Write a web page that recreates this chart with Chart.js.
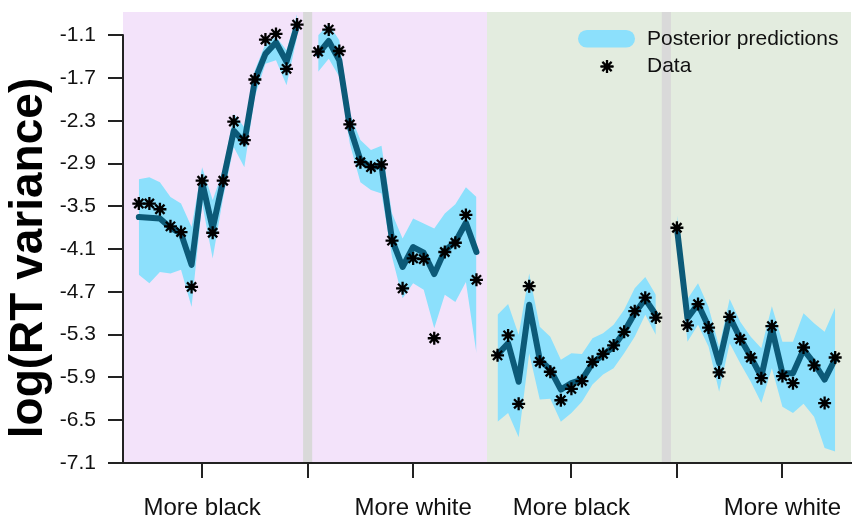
<!DOCTYPE html>
<html>
<head>
<meta charset="utf-8">
<script src="https://cdn.jsdelivr.net/npm/chart.js@4.4.1/dist/chart.umd.min.js"></script>
<style>
  html, body { margin: 0; padding: 0; background: #fff; }
</style>
</head>
<body>
<canvas id="chart" width="864" height="526"></canvas>
<script>
// trial index inside a block, and where each block starts on the x axis
const trials = [0, 1, 2, 3, 4, 5, 6, 7, 8, 9, 10, 11, 12, 13, 14, 15];
const blockStart = [0, 17, 34, 51];

// block A (pink, left)
const dataA = [-3.46, -3.46, -3.54, -3.78, -3.86, -4.63, -3.14, -3.87, -3.14, -2.31, -2.57, -1.72, -1.16, -1.08, -1.57, -0.95];
const fitA  = [-3.65, -3.66, -3.67, -3.80, -3.88, -4.32, -3.16, -3.81, -3.13, -2.44, -2.60, -1.73, -1.36, -1.20, -1.47, -0.96];
const hiA   = [-3.12, -3.09, -3.16, -3.37, -3.46, -3.79, -2.95, -3.41, -2.99, -2.20, -2.39, -1.59, -1.22, -1.12, -1.31, -0.80];
const loA   = [-4.46, -4.58, -4.42, -4.44, -4.39, -4.91, -3.46, -4.23, -3.37, -2.67, -2.95, -1.96, -1.50, -1.45, -1.80, -1.12];

// block B (pink, right)
const dataB = [-1.33, -1.02, -1.32, -2.35, -2.88, -2.95, -2.91, -3.98, -4.65, -4.23, -4.24, -5.35, -4.14, -4.01, -3.62, -4.53];
const fitB  = [-1.36, -1.18, -1.45, -2.39, -2.85, -2.95, -2.93, -3.97, -4.35, -4.07, -4.15, -4.45, -4.12, -4.00, -3.73, -4.14];
const hiB   = [-1.10, -0.94, -1.17, -2.20, -2.57, -2.71, -2.65, -3.60, -3.95, -3.67, -3.74, -3.81, -3.60, -3.47, -3.23, -3.37];
const loB   = [-1.61, -1.43, -1.68, -2.62, -3.16, -3.27, -3.32, -4.21, -4.79, -4.58, -4.67, -5.21, -4.74, -4.84, -4.56, -5.56];

// block C (green, left)
const dataC = [-5.59, -5.31, -6.27, -4.62, -5.68, -5.82, -6.22, -6.06, -5.95, -5.68, -5.57, -5.45, -5.26, -4.97, -4.78, -5.06];
const fitC  = [-5.58, -5.42, -5.96, -4.88, -5.65, -5.79, -6.07, -5.98, -5.93, -5.70, -5.58, -5.47, -5.26, -5.00, -4.80, -5.02];
const hiC   = [-5.02, -4.87, -5.30, -4.44, -5.19, -5.33, -5.65, -5.56, -5.57, -5.35, -5.28, -5.16, -4.95, -4.65, -4.49, -4.74];
const loC   = [-6.52, -6.40, -6.74, -5.56, -6.21, -6.20, -6.52, -6.40, -6.24, -6.00, -5.86, -5.77, -5.56, -5.33, -5.02, -5.30];

// block D (green, right)
const dataD = [-3.80, -5.17, -4.87, -5.20, -5.83, -5.05, -5.36, -5.62, -5.91, -5.18, -5.88, -5.98, -5.48, -5.73, -6.26, -5.62];
const fitD  = [-3.80, -5.07, -4.87, -5.19, -5.70, -5.05, -5.35, -5.61, -5.89, -5.21, -5.84, -5.84, -5.51, -5.70, -5.93, -5.64];
const hiD   = [-3.62, -4.80, -4.58, -4.91, -5.47, -4.80, -5.12, -5.33, -5.49, -4.90, -5.40, -5.40, -5.00, -5.14, -5.26, -4.92];
const loD   = [-3.97, -5.40, -5.16, -5.47, -6.10, -5.42, -5.70, -5.96, -6.26, -5.77, -6.31, -6.40, -6.27, -6.45, -6.89, -6.94];

const yTicks = [-7.1, -6.5, -5.9, -5.3, -4.7, -4.1, -3.5, -2.9, -2.3, -1.7, -1.1];
const xTickPos = [6, 16, 26, 41, 51, 61];
const xTickLabels = ['More black', '', 'More white', 'More black', '', 'More white'];

// shaded regions and separators, in x-axis units
const pinkRegion = [-1.5, 33];
const greenRegion = [33, 67.5];
const separators = [16, 50];

const FONT = "'Liberation Sans', Arial, Helvetica, sans-serif";
const BAND = '#8ce0fc';
const LINE = '#0c5a78';

const blocks = [
  [dataA, fitA, hiA, loA],
  [dataB, fitB, hiB, loB],
  [dataC, fitC, hiC, loC],
  [dataD, fitD, hiD, loD]
];

const pts = (k, arr) => trials.map((t, i) => ({ x: blockStart[k] + t, y: arr[i] }));

const datasets = [];
blocks.forEach(([d, f, hi, lo], k) => {
  datasets.push({ type: 'line', data: pts(k, lo), borderWidth: 0, pointRadius: 0, fill: false, order: 3 });
  datasets.push({ type: 'line', data: pts(k, hi), borderWidth: 0, pointRadius: 0, fill: '-1', backgroundColor: BAND, order: 3 });
  datasets.push({ type: 'line', data: pts(k, f), borderColor: LINE, borderWidth: 6, pointRadius: 0,
    borderJoinStyle: 'round', borderCapStyle: 'round', fill: false, order: 2 });
  datasets.push({ type: 'scatter', data: pts(k, d), pointStyle: 'star', pointRadius: 6.5,
    borderColor: '#000', borderWidth: 2.3, backgroundColor: '#000', order: 1 });
});

const backdrop = {
  id: 'backdrop',
  beforeDraw(chart) {
    const { ctx, chartArea: a, scales: { x } } = chart;
    ctx.save();
    ctx.fillStyle = '#f3e3fa';
    ctx.fillRect(x.getPixelForValue(pinkRegion[0]), a.top, x.getPixelForValue(pinkRegion[1]) - x.getPixelForValue(pinkRegion[0]), a.bottom - a.top);
    ctx.fillStyle = '#e3ecdf';
    ctx.fillRect(x.getPixelForValue(greenRegion[0]), a.top, x.getPixelForValue(greenRegion[1]) - x.getPixelForValue(greenRegion[0]), a.bottom - a.top);
    ctx.fillStyle = '#d9d9d9';
    separators.forEach(s => {
      const w = x.getPixelForValue(s + 0.43) - x.getPixelForValue(s - 0.43);
      ctx.fillRect(x.getPixelForValue(s) - w / 2, a.top, w, a.bottom - a.top);
    });
    ctx.restore();
  },
  afterDraw(chart) {
    const { ctx, chartArea: a, scales: { y } } = chart;
    ctx.save();
    // y axis line only over the tick range
    ctx.strokeStyle = '#222';
    ctx.lineWidth = 2;
    ctx.beginPath();
    ctx.moveTo(a.left, y.getPixelForValue(yTicks[yTicks.length - 1]) - 1);
    ctx.lineTo(a.left, a.bottom);
    ctx.stroke();

    // y title
    ctx.fillStyle = '#000';
    ctx.font = 'bold 46px ' + FONT;
    ctx.textAlign = 'center';
    ctx.textBaseline = 'middle';
    ctx.translate(29, 258);
    ctx.rotate(-Math.PI / 2);
    ctx.fillText('log(RT variance)', 0, 0);
    ctx.restore();

    // legend
    ctx.save();
    const lx = a.right - 273, ly = a.top + 18;
    ctx.fillStyle = BAND;
    ctx.beginPath();
    ctx.roundRect(lx, ly, 57, 17.5, 8.75);
    ctx.fill();
    Chart.helpers.drawPoint(ctx, { pointStyle: 'star', radius: 6.5, borderWidth: 2.3 }, lx + 29, ly + 36.5);
    ctx.strokeStyle = '#000';
    ctx.lineWidth = 2.3;
    ctx.stroke();
    ctx.fillStyle = '#111';
    ctx.font = '21px ' + FONT;
    ctx.textAlign = 'left';
    ctx.textBaseline = 'middle';
    ctx.fillText('Posterior predictions', lx + 69, ly + 9);
    ctx.fillText('Data', lx + 69, ly + 36);
    ctx.restore();
  }
};

new Chart(document.getElementById('chart'), {
  data: { datasets },
  options: {
    responsive: false,
    animation: false,
    layout: { padding: { top: 12, right: 13, left: 0, bottom: 0 } },
    plugins: { legend: { display: false }, tooltip: { enabled: false } },
    scales: {
      x: {
        type: 'linear',
        min: -1.5,
        max: 67.5,
        afterFit: s => { s.height = 63; s.paddingLeft = 0; s.paddingRight = 0; },
        afterBuildTicks: s => { s.ticks = xTickPos.map(v => ({ value: v })); },
        grid: { drawOnChartArea: false, drawTicks: true, tickLength: 15, color: '#222', lineWidth: 2 },
        border: { display: true, color: '#222', width: 2 },
        ticks: {
          padding: 16,
          color: '#111',
          font: { family: FONT, size: 24 },
          maxRotation: 0,
          autoSkip: false,
          callback: (v, i) => xTickLabels[i]
        }
      },
      y: {
        min: -7.1,
        max: -0.773,
        afterFit: s => { s.width = 123; s.paddingTop = 0; s.paddingBottom = 0; },
        afterBuildTicks: s => { s.ticks = yTicks.map(v => ({ value: v })); },
        grid: { drawOnChartArea: false, drawTicks: true, tickLength: 15, color: '#222', lineWidth: 2 },
        border: { display: false },
        ticks: {
          padding: 12,
          color: '#111',
          font: { family: FONT, size: 21 },
          callback: v => v.toFixed(1)
        }
      }
    }
  },
  plugins: [backdrop]
});
</script>
</body>
</html>
